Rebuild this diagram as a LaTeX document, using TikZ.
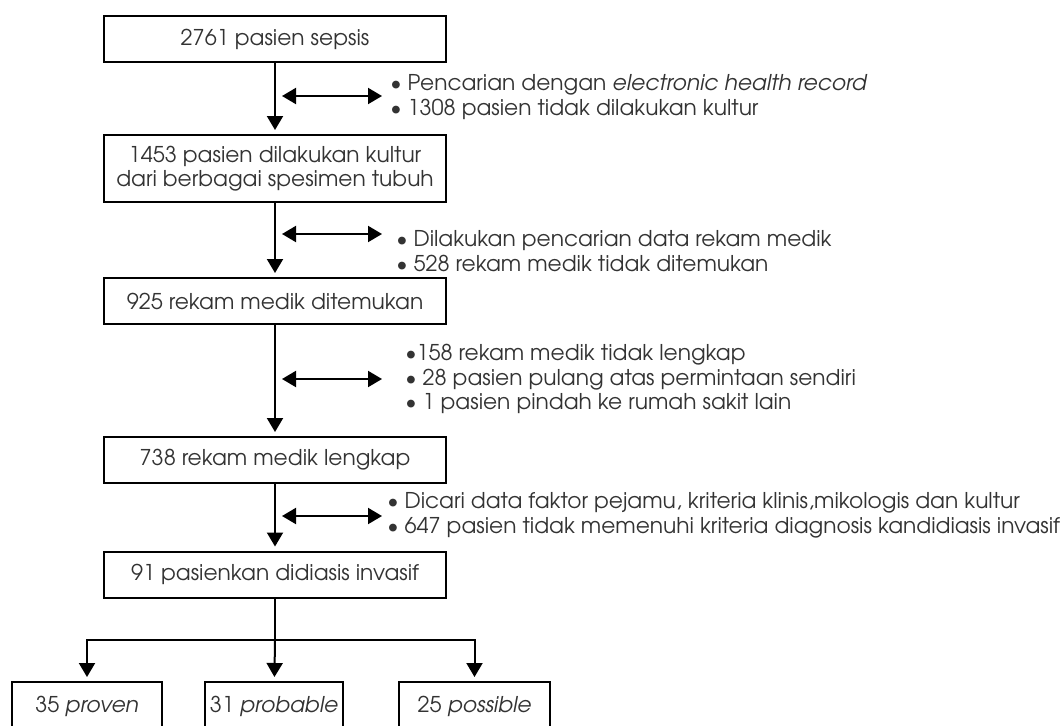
\documentclass[tikz,border=0pt]{standalone}
\usepackage{fontspec}
\setmainfont{TeX Gyre Adventor}
\usepackage{tikz}
\usetikzlibrary{arrows.meta, positioning, calc}

\begin{document}
\begin{tikzpicture}[x=0.75pt, y=-0.75pt,
    box/.style={rectangle, draw, line width=1.5pt, minimum width=256.5pt, minimum height=34.5pt, align=center, inner sep=0pt, text=black!80, font=\fontsize{16.3}{18.5}\selectfont},
    note/.style={anchor=west, align=left, inner sep=0pt, text=black!80, font=\fontsize{16.3}{18.5}\selectfont},
    arrow/.style={-{Triangle[length=10.5pt, width=12pt]}, line width=1.5pt, shorten >=3pt},
    both/.style={{Triangle[length=10.5pt, width=12pt]}-{Triangle[length=10.5pt, width=12pt]}, line width=1.5pt}
]
\useasboundingbox (0,0) rectangle (1062,725);

% Boxes
\node[box] (sepsis) at (275,39) {2761 pasien sepsis};
\node[box, minimum height=50.25pt] (kultur) at (275,168.5) {1453 pasien dilakukan kultur\\dari berbagai spesimen tubuh};
\node[box] (ditemukan) at (275,301) {925 rekam medik ditemukan};
\node[box] (lengkap) at (275,460) {738 rekam medik lengkap};
\node[box] (invasif) at (275,574.5) {91 pasienkan didiasis invasif};

\node[box, minimum width=112.5pt, minimum height=36pt] (proven) at (87,706) {35 \textit{proven}};
\node[box, minimum width=103.5pt, minimum height=36pt] (probable) at (274,706) {31 \textit{probable}};
\node[box, minimum width=113.25pt, minimum height=36pt] (possible) at (474.5,706) {25 \textit{possible}};

% Notes
\node[note] (ehr) at (390,97) {\textbullet{} Pencarian dengan \textit{electronic health record}\\\textbullet{} 1308 pasien tidak dilakukan kultur};
\node[note] (rekam) at (396,251) {\textbullet{} Dilakukan pencarian data rekam medik\\\textbullet{} 528 rekam medik tidak ditemukan};
\node[note] (tidaklengkap) at (405,379) {\textbullet158 rekam medik tidak lengkap\\\textbullet{} 28 pasien pulang atas permintaan sendiri\\\textbullet{} 1 pasien pindah ke rumah sakit lain};
\node[note] (kriteria) at (387,515) {\textbullet{} Dicari data faktor pejamu, kriteria klinis,mikologis dan kultur\\\textbullet{} 647 pasien tidak memenuhi kriteria diagnosis kandidiasis invasif};

% Connections
\draw[arrow] (sepsis) -- (kultur);
\draw[arrow] (kultur) -- (ditemukan);
\draw[arrow] (ditemukan) -- (lengkap);
\draw[arrow] (lengkap) -- (invasif);

\coordinate (l1) at (282,96);  \coordinate (r1) at (382,96);
\coordinate (l2) at (282,234); \coordinate (r2) at (382,234);
\coordinate (l3) at (282,379); \coordinate (r3) at (382,379);
\coordinate (l4) at (282,516); \coordinate (r4) at (382,516);
\draw[both] (l1) -- (r1);
\draw[both] (l2) -- (r2);
\draw[both] (l3) -- (r3);
\draw[both] (l4) -- (r4);

\coordinate (branch) at (275,640);
\draw[line width=1.5pt] (invasif) -- (branch);
\draw[arrow] (branch) -| (proven);
\draw[arrow] (branch) -- (probable);
\draw[arrow] (branch) -| (possible);

\end{tikzpicture}
\end{document}
